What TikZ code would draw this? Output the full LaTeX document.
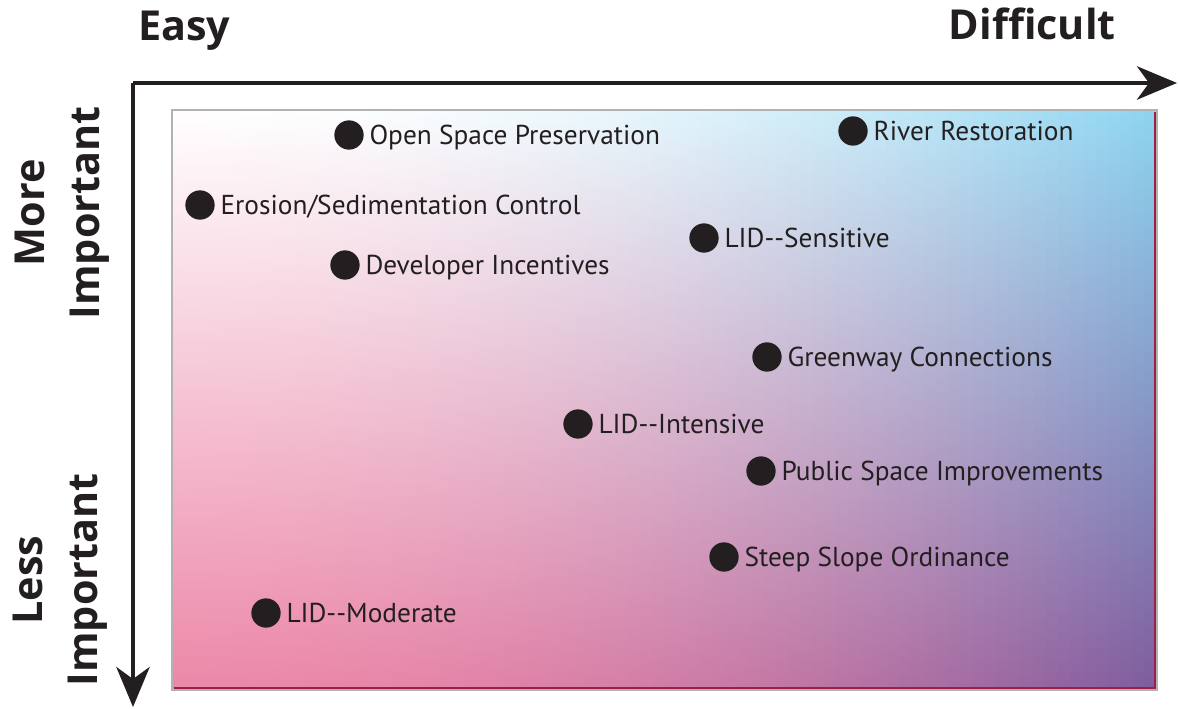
\documentclass[tikz,border=0pt]{standalone}
\usepackage{fontspec}
\setmainfont{PT Sans}
\newfontfamily\axisfont{Open Sans}
\usetikzlibrary{arrows.meta,positioning}

\definecolor{dotblack}{RGB}{35,31,32}
\definecolor{topleft}{RGB}{255,255,255}
\definecolor{midleft}{RGB}{243,205,216}
\definecolor{botleft}{RGB}{236,135,168}
\definecolor{topright}{RGB}{140,212,240}
\definecolor{midright}{RGB}{120,148,190}
\definecolor{botright}{RGB}{126,92,158}
\definecolor{edgered}{RGB}{160,30,70}

\tikzset{
  axisline/.style={line width=3pt, color=dotblack, -{Stealth[length=30pt, width=25pt, inset=9pt]}},
  dot/.style={circle, fill=dotblack, minimum size=22pt, inner sep=0pt},
  lbl/.style={anchor=west, inner sep=0pt, text height=14.5pt, text depth=0pt, font=\fontsize{20.5}{24}\selectfont, text=dotblack},
  axislbl/.style={font=\axisfont\fontsize{31}{41}\selectfont\bfseries, text=dotblack, inner sep=0pt},
}

\begin{document}
\begin{tikzpicture}[x=0.75pt,y=0.75pt,yscale=-1,xscale=1]
\useasboundingbox (0,0) rectangle (1178,709);

% shaded field, built from thin vertical strips
\foreach \i in {0,...,79}{
  \pgfmathsetmacro{\w}{100*((\i+0.5)/80)^2}
  \pgfmathsetmacro{\xa}{172+\i*12.3125}
  \pgfmathsetmacro{\xb}{\xa+13.1}
  \colorlet{stript}{topright!\w!topleft}
  \colorlet{stripm}{midright!\w!midleft}
  \colorlet{stripb}{botright!\w!botleft}
  \shade[top color=stript, middle color=stripm, bottom color=stripb] (\xa,110) rectangle (\xb,690);
}
\draw[gray!60, line width=1.5pt] (172,110) rectangle (1157,690);
\draw[edgered, line width=0.8pt] (174,688) -- (1155,688) -- (1155,112);

% axes
\coordinate (origin) at (133,83);
\coordinate (xend) at (1177,83);
\coordinate (yend) at (133,707);
\draw[axisline] (origin) -- (xend);
\draw[axisline] (origin) -- (yend);

% axis labels
\node[axislbl, anchor=base west] (easy) at (138,41) {Easy};
\node[axislbl, anchor=base east] (difficult) at (1116,40) {Difficult};
\node[axislbl, rotate=90, align=center] (more) at (62,213) {More\\Important};
\node[axislbl, rotate=90, align=center] (less) at (60,580) {Less\\Important};

% items
\node[dot] (osp) at (349,135) {};
\node[lbl, right=4pt of osp] (ospl) {Open Space Preservation};
\node[dot] (river) at (853,131) {};
\node[lbl, right=4pt of river] (riverl) {River Restoration};
\node[dot] (erosion) at (200,205) {};
\node[lbl, right=4pt of erosion] (erosionl) {Erosion/Sedimentation Control};
\node[dot] (lidsens) at (704,238) {};
\node[lbl, right=4pt of lidsens] (lidsensl) {LID-{}-Sensitive};
\node[dot] (dev) at (345,265) {};
\node[lbl, right=4pt of dev] (devl) {Developer Incentives};
\node[dot] (green) at (767,357) {};
\node[lbl, right=4pt of green] (greenl) {Greenway Connections};
\node[dot] (lidint) at (578,424) {};
\node[lbl, right=4pt of lidint] (lidintl) {LID-{}-Intensive};
\node[dot] (public) at (761,471) {};
\node[lbl, right=4pt of public] (publicl) {Public Space Improvements};
\node[dot] (steep) at (724,557) {};
\node[lbl, right=4pt of steep] (steepl) {Steep Slope Ordinance};
\node[dot] (lidmod) at (266,613) {};
\node[lbl, right=4pt of lidmod] (lidmodl) {LID-{}-Moderate};

\end{tikzpicture}
\end{document}
